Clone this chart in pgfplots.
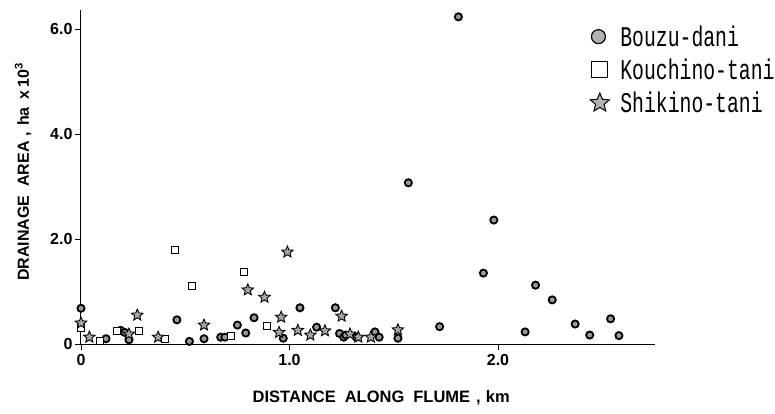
\documentclass[border=0pt]{standalone}
\usepackage{pgfplots}
\pgfplotsset{compat=1.18}
\usepackage{fontspec}
\setmainfont{Liberation Sans}
\newfontfamily\legfont{Liberation Mono}
\pgfdeclareplotmark{fstar}{%
  \pgfpathmoveto{\pgfpointpolar{90}{\pgfplotmarksize}}%
  \pgfpathlineto{\pgfpointpolar{126}{0.45\pgfplotmarksize}}%
  \pgfpathlineto{\pgfpointpolar{162}{\pgfplotmarksize}}%
  \pgfpathlineto{\pgfpointpolar{198}{0.45\pgfplotmarksize}}%
  \pgfpathlineto{\pgfpointpolar{234}{\pgfplotmarksize}}%
  \pgfpathlineto{\pgfpointpolar{270}{0.45\pgfplotmarksize}}%
  \pgfpathlineto{\pgfpointpolar{306}{\pgfplotmarksize}}%
  \pgfpathlineto{\pgfpointpolar{342}{0.45\pgfplotmarksize}}%
  \pgfpathlineto{\pgfpointpolar{18}{\pgfplotmarksize}}%
  \pgfpathlineto{\pgfpointpolar{54}{0.45\pgfplotmarksize}}%
  \pgfpathclose\pgfusepathqfillstroke}
\newcommand{\legtext}[1]{\hspace{9pt}\scalebox{1.04}[1.5]{\legfont\fontsize{19}{20}\selectfont #1}}
\begin{document}
\begin{tikzpicture}
\path[use as bounding box] (-81pt,-69pt) rectangle (694pt,344pt);
\begin{axis}[
  scale only axis,
  width=574pt, height=334pt,
  xmin=0, xmax=2.753, ymin=0, ymax=6.36,
  axis lines=left,
  axis line style={-, line width=1pt},
  clip=false,
  xtick={0,1,2}, xticklabels={0,1.0,2.0},
  ytick={0,2,4,6}, yticklabels={0,2.0,4.0,6.0},
  tick align=outside,
  major tick length=6pt,
  tick style={line width=0.8pt, black},
  tick label style={font=\fontsize{16}{18}\selectfont\bfseries},
  xticklabel style={yshift=-1pt},
  yticklabel style={xshift=1pt},
  xlabel={DISTANCE\hspace{9pt}ALONG\hspace{9pt}FLUME\hspace{6pt},\hspace{5pt}km},
  ylabel={DRAINAGE\hspace{9pt}AREA\hspace{5pt},\hspace{6pt}ha\hspace{8pt}x\,10\textsuperscript{3}},
  xlabel style={at={(axis description cs:0.523,-0.162)}, anchor=center, font=\fontsize{16.5}{18}\selectfont\bfseries},
  ylabel style={at={(axis description cs:-0.101,0.515)}, anchor=center, rotate=0, font=\fontsize{16}{18}\selectfont\bfseries},
  legend style={draw=none, fill=none, at={(axis description cs:0.887,0.96)}, anchor=north west, row sep=7pt, inner sep=0pt},
  legend cell align=left,
]
% Bouzu-dani
\addplot[only marks, mark=*, mark size=3.6pt, mark options={fill=gray!80, draw=black, line width=1.8pt},
  legend image code/.code={\draw[mark=*, mark size=7pt, mark options={fill=gray!60, draw=black, line width=1.2pt}] plot coordinates {(0.25cm,0cm)};}]
coordinates {
(0,0.68) (0.12,0.10) (0.19,0.26) (0.21,0.22) (0.23,0.08) (0.46,0.46) (0.52,0.05) (0.59,0.10)
(0.67,0.13) (0.69,0.13) (0.75,0.36) (0.79,0.21) (0.83,0.50) (0.97,0.11) (1.05,0.69)
(1.13,0.32) (1.22,0.69) (1.24,0.20) (1.26,0.13) (1.27,0.17) (1.32,0.13) (1.41,0.23) (1.43,0.13)
(1.52,0.11) (1.57,3.07) (1.72,0.33) (1.81,6.23) (1.93,1.35) (1.98,2.36) (2.13,0.23) (2.18,1.12)
(2.26,0.84) (2.37,0.38) (2.44,0.17) (2.54,0.48) (2.58,0.16)
};
\addlegendentry{\legtext{Bouzu-dani}}
% Kouchino-tani
\addplot[only marks, mark=square*, mark size=3.5pt, mark options={fill=white, draw=black, line width=0.8pt},
  legend image code/.code={\draw[mark=square*, mark size=8pt, mark options={fill=white, draw=black, line width=1pt}] plot coordinates {(0.3cm,0cm)};}]
coordinates {
(0,0.30) (0.09,0.06) (0.17,0.25) (0.28,0.25) (0.40,0.10) (0.45,1.79) (0.53,1.11)
(0.72,0.15) (0.78,1.37) (0.89,0.34)
};
\addlegendentry{\legtext{Kouchino-tani}}
% Shikino-tani
\addplot[only marks, mark=fstar, mark size=6pt, mark options={fill=gray!70, draw=black, line width=0.9pt},
  legend image code/.code={\draw[mark=fstar, mark size=10pt, mark options={fill=gray!60, draw=black, line width=1pt}] plot coordinates {(0.3cm,0cm)};}]
coordinates {
(0,0.40) (0.04,0.13) (0.23,0.19) (0.27,0.55) (0.37,0.13) (0.59,0.36) (0.80,1.03) (0.88,0.89)
(0.95,0.22) (0.96,0.51) (0.99,1.75) (1.04,0.26) (1.10,0.17) (1.17,0.25) (1.25,0.53) (1.29,0.19)
(1.33,0.13) (1.39,0.13) (1.52,0.27)
};
\addlegendentry{\legtext{Shikino-tani}}
\end{axis}
\end{tikzpicture}
\end{document}
